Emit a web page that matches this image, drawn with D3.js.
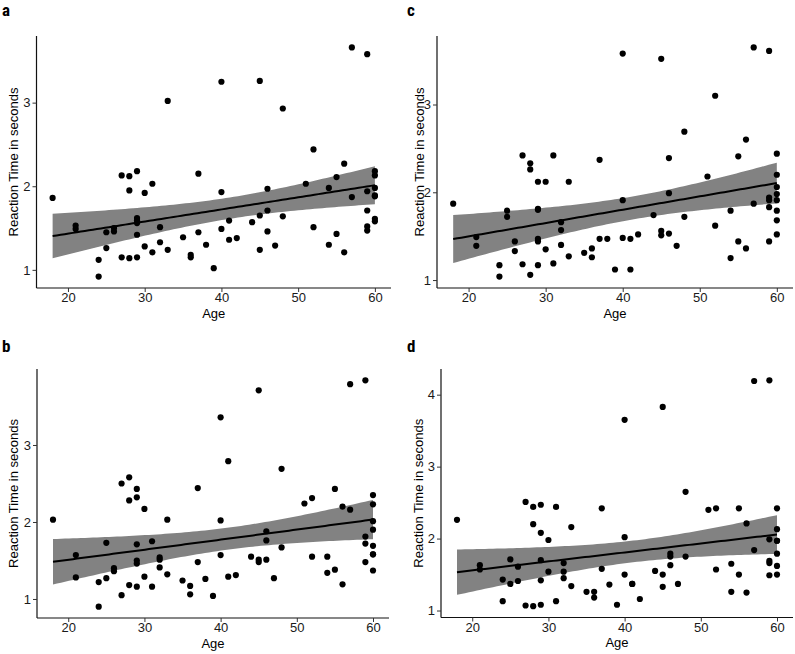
<!DOCTYPE html>
<html><head><meta charset="utf-8">
<script src="https://cdn.jsdelivr.net/npm/d3@7"></script>
<style>body{margin:0;background:#fff}svg{display:block}</style>
</head><body>
<script>
// Data: [age, reaction time in seconds]
const panelA = [[18,1.86],[21,1.53],[21,1.49],[24,1.12],[24,0.92],[25,1.45],[25,1.26],[26,1.50],[26,1.46],[27,2.13],[27,1.15],[28,2.12],[28,1.95],[28,1.14],[29,2.18],[29,1.62],[29,1.59],[29,1.56],[29,1.42],[29,1.15],[30,1.92],[30,1.28],[31,2.03],[31,1.21],[32,1.51],[32,1.33],[33,3.02],[33,1.24],[35,1.39],[36,1.18],[36,1.15],[37,2.15],[37,1.45],[38,1.30],[39,1.02],[40,3.25],[40,1.93],[40,1.49],[41,1.59],[41,1.36],[42,1.38],[44,1.57],[45,3.26],[45,1.65],[45,1.24],[46,1.97],[46,1.71],[46,1.46],[47,1.29],[48,2.93],[48,1.64],[51,2.03],[52,2.44],[52,1.51],[54,1.98],[54,1.30],[55,2.11],[55,1.43],[56,2.27],[56,1.21],[57,3.66],[57,1.87],[59,3.58],[59,1.94],[59,1.71],[59,1.52],[59,1.47],[60,2.18],[60,2.13],[60,1.98],[60,1.89],[60,1.88],[60,1.61],[60,1.58]];
const panelB = [[18,2.03],[21,1.57],[21,1.28],[24,1.22],[24,0.90],[25,1.73],[25,1.27],[26,1.40],[26,1.36],[27,2.50],[27,1.05],[28,2.58],[28,2.28],[28,1.18],[29,2.43],[29,2.32],[29,1.71],[29,1.50],[29,1.46],[29,1.16],[30,2.17],[30,1.29],[31,1.75],[31,1.16],[32,1.54],[32,1.51],[32,1.41],[33,2.03],[33,1.32],[35,1.24],[36,1.17],[36,1.06],[37,2.44],[37,1.48],[38,1.26],[39,1.04],[40,3.36],[40,2.02],[40,1.57],[41,2.79],[41,1.29],[42,1.31],[44,1.55],[45,3.71],[45,1.51],[45,1.48],[46,1.88],[46,1.76],[46,1.51],[47,1.27],[48,2.69],[48,1.67],[51,2.24],[52,2.31],[52,1.55],[54,1.55],[54,1.34],[55,2.43],[55,1.38],[56,2.20],[56,1.19],[57,3.79],[57,2.16],[59,3.84],[59,1.81],[59,1.72],[59,1.48],[60,2.35],[60,2.23],[60,2.01],[60,1.90],[60,1.69],[60,1.58],[60,1.58],[60,1.37]];
const panelC = [[18,1.87],[21,1.49],[21,1.39],[24,1.17],[24,1.04],[25,1.79],[25,1.72],[26,1.44],[26,1.33],[27,2.42],[27,1.18],[28,2.33],[28,2.26],[28,1.06],[29,2.12],[29,1.81],[29,1.80],[29,1.47],[29,1.44],[29,1.17],[30,2.12],[30,1.35],[31,2.42],[31,1.19],[32,1.66],[32,1.57],[32,1.40],[33,2.12],[33,1.27],[35,1.31],[36,1.36],[36,1.26],[37,2.37],[37,1.47],[38,1.47],[39,1.12],[40,3.58],[40,1.91],[40,1.48],[41,1.47],[41,1.12],[42,1.52],[44,1.74],[45,3.52],[45,1.56],[45,1.51],[46,2.39],[46,1.99],[46,1.53],[47,1.39],[48,2.69],[48,1.72],[51,2.18],[52,3.10],[52,1.62],[54,1.79],[54,1.25],[55,2.41],[55,1.44],[56,2.60],[56,1.36],[57,3.65],[57,1.87],[59,3.61],[59,1.94],[59,1.91],[59,1.83],[59,1.44],[60,2.44],[60,2.20],[60,2.06],[60,1.98],[60,1.91],[60,1.79],[60,1.68],[60,1.52]];
const panelD = [[18,2.26],[21,1.63],[21,1.57],[24,1.43],[24,1.13],[25,1.71],[25,1.37],[26,1.61],[26,1.41],[27,2.51],[27,1.07],[28,2.44],[28,2.20],[28,1.06],[29,2.47],[29,2.08],[29,1.70],[29,1.42],[29,1.08],[30,1.98],[30,1.54],[31,2.44],[31,1.13],[32,1.66],[32,1.54],[32,1.45],[33,2.16],[33,1.34],[35,1.26],[36,1.26],[36,1.18],[37,2.42],[37,1.58],[38,1.36],[39,1.08],[40,3.65],[40,2.02],[40,1.50],[41,1.37],[41,1.37],[42,1.16],[44,1.55],[45,3.83],[45,1.50],[45,1.33],[46,1.79],[46,1.75],[46,1.63],[47,1.37],[48,2.65],[48,1.75],[51,2.40],[52,2.42],[52,1.57],[54,1.65],[54,1.26],[55,2.42],[55,1.50],[56,2.21],[56,1.25],[57,4.19],[57,1.84],[59,4.20],[59,1.99],[59,1.69],[59,1.66],[59,1.49],[60,2.42],[60,2.13],[60,1.97],[60,1.97],[60,1.79],[60,1.62],[60,1.50]];
const panelLetters = ["a", "b", "c", "d"];
const xTicks = [20, 30, 40, 50, 60];
const yTicksABC = [1, 2, 3];
const yTicksD = [1, 2, 3, 4];
const xTitle = "Age";
const yTitle = "Reaction Time in seconds";

const W = 795, H = 654;
const svg = d3.select("body").append("svg").attr("width", W).attr("height", H);

const panels = [
  {data: panelA, letter: panelLetters[0], yt: yTicksABC, box: {l: 36.5, t: 36, r: 391, b: 288}, lx: 2, ly: 16, ytx: 13},
  {data: panelB, letter: panelLetters[1], yt: yTicksABC, box: {l: 37, t: 369, r: 389, b: 618}, lx: 2, ly: 352, ytx: 13},
  {data: panelC, letter: panelLetters[2], yt: yTicksABC, box: {l: 437, t: 36, r: 793, b: 288}, lx: 407, ly: 16, ytx: 419},
  {data: panelD, letter: panelLetters[3], yt: yTicksD, box: {l: 441, t: 369, r: 793, b: 617.5}, lx: 407, ly: 352, ytx: 418}
];

const font = "'Liberation Sans', Arial, sans-serif";

function fit(data) {
  const n = data.length;
  const mx = d3.mean(data, d => d[0]), my = d3.mean(data, d => d[1]);
  let sxx = 0, sxy = 0;
  data.forEach(d => { sxx += (d[0]-mx)**2; sxy += (d[0]-mx)*(d[1]-my); });
  const b = sxy / sxx, a = my - b*mx;
  let sse = 0;
  data.forEach(d => { sse += (d[1] - a - b*d[0])**2; });
  const s = Math.sqrt(sse / (n-2));
  const t = 1.993;
  const [x0, x1] = d3.extent(data, d => d[0]);
  return d3.range(0, 81).map(i => {
    const x = x0 + (x1-x0)*i/80;
    const yh = a + b*x;
    const se = s*Math.sqrt(1/n + (x-mx)**2/sxx);
    return {x, y: yh, lo: yh - t*se, hi: yh + t*se};
  });
}

panels.forEach(p => {
  const {l, t, r, b} = p.box;
  const [xmin, xmax] = d3.extent(p.data, d => d[0]);
  const [ymin, ymax] = d3.extent(p.data, d => d[1]);
  const xe = (xmax-xmin)*0.05, ye = (ymax-ymin)*0.05;
  const x = d3.scaleLinear().domain([xmin-xe, xmax+xe]).range([l, r]);
  const y = d3.scaleLinear().domain([ymin-ye, ymax+ye]).range([b, t]);
  const g = svg.append("g");

  const f = fit(p.data);
  g.append("path").datum(f)
    .attr("d", d3.area().x(d => x(d.x)).y0(d => y(d.lo)).y1(d => y(d.hi)))
    .attr("fill", "#828282");

  g.selectAll("circle").data(p.data).join("circle")
    .attr("cx", d => x(d[0])).attr("cy", d => y(d[1])).attr("r", 3.1)
    .attr("fill", "#000");

  g.append("path").datum(f)
    .attr("d", d3.line().x(d => x(d.x)).y(d => y(d.y)))
    .attr("fill", "none").attr("stroke", "#000").attr("stroke-width", 2);

  const xa = g.append("g").attr("transform", `translate(0,${b})`)
    .call(d3.axisBottom(x).tickValues(xTicks).tickSize(4).tickPadding(1).tickFormat(d3.format("d")));
  const ya = g.append("g").attr("transform", `translate(${l},0)`)
    .call(d3.axisLeft(y).tickValues(p.yt).tickSize(4).tickPadding(2).tickFormat(d3.format("d")));
  [xa, ya].forEach(ax => {
    ax.attr("font-family", font).attr("font-size", 13);
    ax.select(".domain").attr("stroke", "#111").attr("stroke-width", 1.2);
    ax.selectAll(".tick line").attr("stroke", "#333").attr("stroke-width", 1);
    ax.selectAll(".tick text").attr("fill", "#1a1a1a");
  });
  xa.select(".domain").attr("d", `M${l},0H${r}`);
  ya.select(".domain").attr("d", `M0,${b}V${t}`);

  g.append("text").attr("x", (l+r)/2).attr("y", b+29.5)
    .attr("text-anchor", "middle").attr("font-family", font).attr("font-size", 13)
    .attr("fill", "#000").text(xTitle);
  g.append("text").attr("transform", `translate(${p.ytx},${(t+b)/2}) rotate(-90)`)
    .attr("text-anchor", "middle").attr("dy", "0.35em").attr("font-family", font).attr("font-size", 13)
    .attr("fill", "#000").text(yTitle);
  g.append("text").attr("x", p.lx).attr("y", p.ly)
    .attr("font-family", "'Liberation Sans Narrow', 'Roboto Condensed', 'Open Sans', sans-serif").attr("font-weight", "bold").attr("font-size", 17)
    .attr("fill", "#000").text(p.letter);
});
</script>
</body></html>
